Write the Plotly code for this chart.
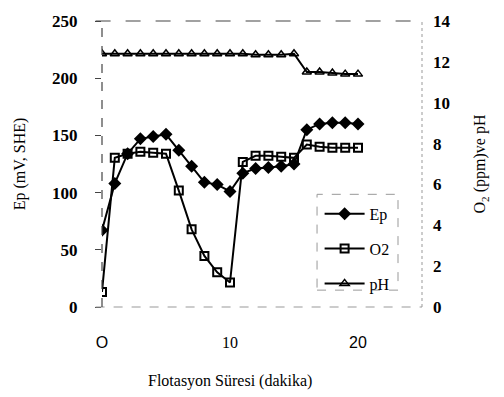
import plotly.graph_objects as go

minutes = list(range(21))
ep = [67, 108, 134, 147, 149, 151, 137, 123, 109, 107, 101, 117, 121, 122, 123, 125, 155, 160, 161, 161, 160]
o2 = [0.74, 7.3, 7.5, 7.6, 7.55, 7.5, 5.7, 3.8, 2.5, 1.7, 1.2, 7.1, 7.4, 7.4, 7.35, 7.3, 7.95, 7.85, 7.8, 7.8, 7.8]
ph = [12.4, 12.4, 12.4, 12.4, 12.4, 12.4, 12.4, 12.4, 12.4, 12.4, 12.4, 12.4, 12.35, 12.35, 12.35, 12.4,
      11.5, 11.5, 11.45, 11.4, 11.4]

x_tickvals = [0, 10, 20]
x_ticktext = ['<span style="font-family:Liberation Sans">O</span>', '10',
              '<span style="font-family:Liberation Sans">20</span>']
left_ticks = [0, 50, 100, 150, 200, 250]
right_ticks = [0, 2, 4, 6, 8, 10, 12, 14]
x_title = "Flotasyon Süresi (dakika)"

SERIF = "Liberation Serif"

fig = go.Figure()
fig.add_trace(go.Scatter(x=minutes, y=ep, name="Ep", mode="lines+markers",
                         line=dict(color="black", width=2),
                         marker=dict(symbol="diamond", size=10, color="black"),
                         legendgroup="a"))
fig.add_trace(go.Scatter(x=minutes, y=o2, name="O2", mode="lines+markers", yaxis="y2",
                         line=dict(color="black", width=2),
                         marker=dict(symbol="square-open", size=8, color="black", line=dict(width=2)),
                         legendgroup="b"))
fig.add_trace(go.Scatter(x=minutes, y=ph, name="pH", mode="lines+markers", yaxis="y2",
                         line=dict(color="black", width=2),
                         marker=dict(symbol="triangle-up-open", size=8, color="black", line=dict(width=1.5)),
                         legendgroup="c"))

dash_col = "#444444"
light = "#999999"
shapes = [
    dict(type="line", xref="paper", yref="paper", x0=-0.02, x1=1.0, y0=1, y1=1,
         line=dict(color=dash_col, width=1.2, dash="longdash")),
    dict(type="line", xref="paper", yref="paper", x0=-0.02, x1=1.0, y0=0, y1=0,
         line=dict(color=light, width=1, dash="dash")),
    dict(type="line", xref="paper", yref="paper", x0=0, x1=0, y0=0, y1=1,
         line=dict(color=dash_col, width=1.2, dash="dash")),
    dict(type="line", xref="paper", yref="paper", x0=1, x1=1, y0=0, y1=1,
         line=dict(color=light, width=1, dash="dot")),
    dict(type="rect", xref="paper", yref="paper", x0=0.672, x1=0.925, y0=0.059, y1=0.394,
         line=dict(color=light, width=1, dash="dash"), fillcolor="rgba(0,0,0,0)"),
]

fig.update_layout(
    width=504, height=397,
    margin=dict(l=102, r=82, t=18, b=90),
    paper_bgcolor="white", plot_bgcolor="white",
    font=dict(family=SERIF, color="black", size=15),
    showlegend=True,
    legend=dict(x=0.68, y=0.385, xanchor="left", yanchor="top",
                bgcolor="rgba(0,0,0,0)", borderwidth=0,
                font=dict(family=SERIF, size=16),
                traceorder="grouped", tracegroupgap=11, itemwidth=40),
    xaxis=dict(range=[0, 25], showline=False, showgrid=False, zeroline=False,
               tickvals=x_tickvals, ticktext=x_ticktext, ticks="", ticklabelstandoff=24,
               tickfont=dict(family=SERIF, size=16)),
    yaxis=dict(range=[0, 250], showline=False, showgrid=False, zeroline=False,
               tickvals=left_ticks, ticks="outside", ticklen=6, tickcolor=dash_col,
               ticklabelstandoff=14,
               tickfont=dict(family=SERIF, size=17, weight="bold"),
               title=dict(text="Ep (mV, SHE)", font=dict(family=SERIF, size=16), standoff=22)),
    yaxis2=dict(range=[0, 14], overlaying="y", side="right", showline=False, showgrid=False,
                zeroline=False, tickvals=right_ticks, ticks="", ticklabelstandoff=10,
                tickfont=dict(family=SERIF, size=17, weight="bold"),
                title=dict(text="O<sub>2</sub> (ppm)ve pH", font=dict(family=SERIF, size=16), standoff=24)),
    shapes=shapes,
    annotations=[dict(text=x_title, x=10, xref="x", y=-0.26, yref="paper",
                      xanchor="center", yanchor="middle", showarrow=False,
                      font=dict(family=SERIF, size=16))],
)

fig.write_html("out.html")
